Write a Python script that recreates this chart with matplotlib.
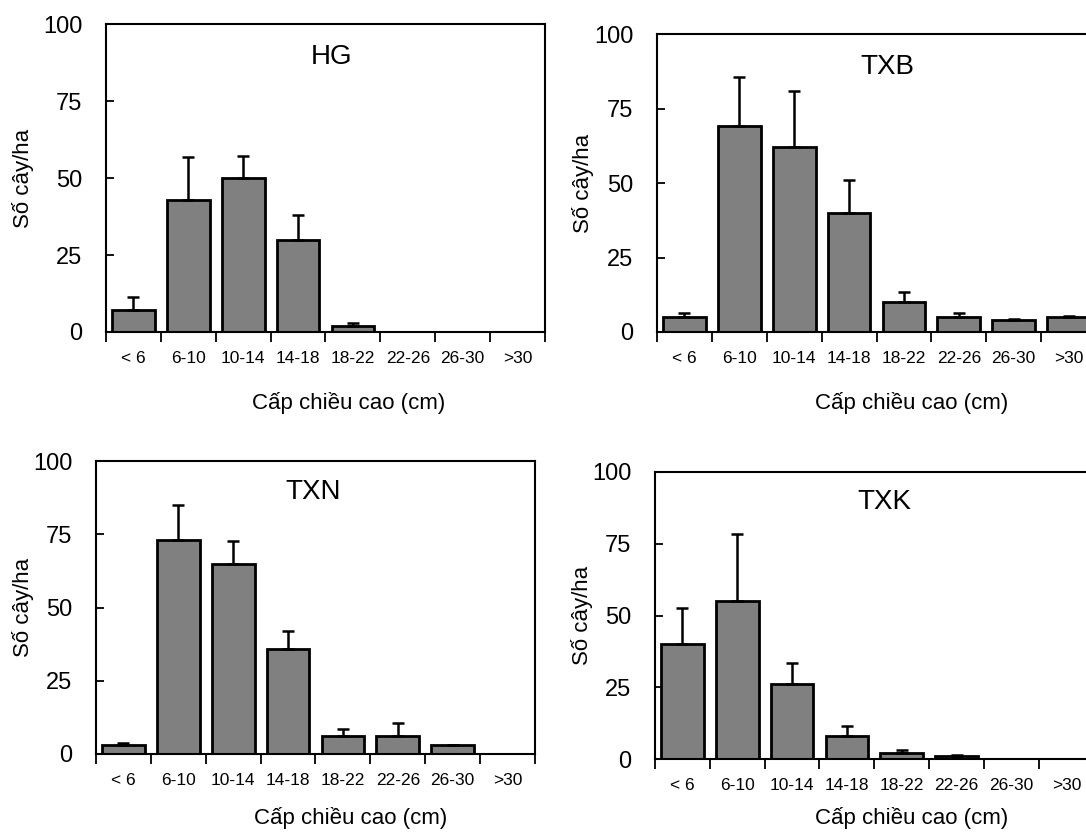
import matplotlib.pyplot as plt
import numpy as np

plt.rcParams['font.family'] = ['Liberation Sans', 'DejaVu Sans']

classes = ['< 6', '6-10', '10-14', '14-18', '18-22', '22-26', '26-30', '>30']
sites = ['HG', 'TXB', 'TXN', 'TXK']

hg_mean = [7, 43, 50, 30, 2, 0, 0, 0]
hg_err = [4.3, 13.7, 7.2, 8.0, 0.8, 0, 0, 0]
txb_mean = [5, 69, 62, 40, 10, 5, 4, 5]
txb_err = [1.4, 16.6, 19.0, 11.0, 3.5, 1.4, 0.2, 0.3]
txn_mean = [3, 73, 65, 36, 6, 6, 3, 0]
txn_err = [0.9, 12.1, 7.6, 6.0, 2.6, 4.7, 0.1, 0]
txk_mean = [40, 55, 26, 8, 2, 1, 0, 0]
txk_err = [12.6, 23.5, 7.5, 3.4, 1.0, 0.4, 0, 0]

means = [hg_mean, txb_mean, txn_mean, txk_mean]
errs = [hg_err, txb_err, txn_err, txk_err]

# axes boxes in figure fraction [left, bottom, width, height]
boxes = [
    [0.0976, 0.601, 0.4042, 0.370],
    [0.605, 0.601, 0.4042, 0.358],
    [0.0884, 0.0938, 0.4042, 0.352],
    [0.603, 0.0877, 0.4042, 0.345],
]
# per-panel placement of title / axis labels (axes fraction)
title_xy = [(0.513, 0.893), (0.524, 0.889), (0.494, 0.894), (0.524, 0.895)]
xlab_xy = [(0.553, -0.23), (0.581, -0.238), (0.581, -0.22), (0.585, -0.205)]
ylab_x = [-0.189, -0.169, -0.166, -0.166]

fig = plt.figure(figsize=(10.86, 8.32), dpi=100)

for i, (site, m, e, box) in enumerate(zip(sites, means, errs, boxes)):
    ax = fig.add_axes(box)
    x = np.arange(len(classes))
    ax.bar(x, m, width=0.78, color='#808080', edgecolor='black', linewidth=2,
           yerr=[np.zeros(len(e)), e], capsize=4.5,
           error_kw=dict(ecolor='black', elinewidth=1.8, capthick=1.8), zorder=2)
    ax.set_xlim(-0.5, len(classes) - 0.5)
    ax.set_ylim(0, 100)
    ax.set_yticks([0, 25, 50, 75, 100])
    ax.tick_params(axis='y', direction='in', length=6, width=1.3, labelsize=17, pad=17)
    ax.set_xticks(np.arange(len(classes) + 1) - 0.5)
    ax.set_xticklabels([])
    ax.set_xticks(x, minor=True)
    ax.set_xticklabels(classes, minor=True)
    ax.tick_params(axis='x', which='major', direction='out', length=7, width=1.3)
    ax.tick_params(axis='x', which='minor', length=0, labelsize=12.5, pad=14)
    for sp in ax.spines.values():
        sp.set_linewidth(1.5)
    ax.text(title_xy[i][0], title_xy[i][1], site, transform=ax.transAxes,
            ha='center', va='center', fontsize=20)
    ax.set_xlabel('Cấp chiều cao (cm)', fontsize=16, va='center')
    ax.xaxis.set_label_coords(*xlab_xy[i])
    ax.set_ylabel('Số cây/ha', fontsize=16, va='center')
    ax.yaxis.set_label_coords(ylab_x[i], 0.5)

fig.savefig('out.png', dpi=100)
